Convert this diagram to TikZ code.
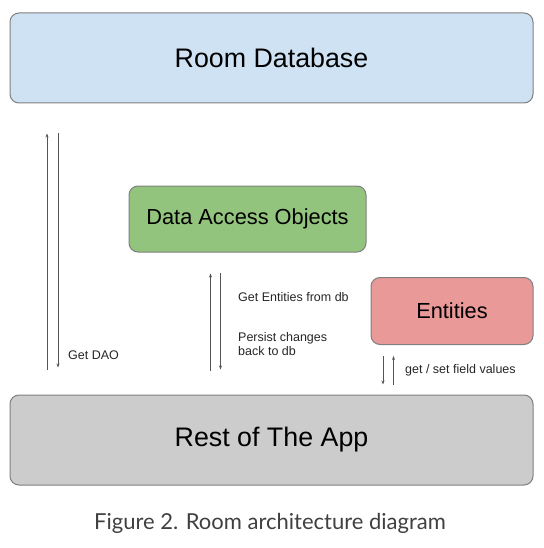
\documentclass[tikz,border=0pt]{standalone}
\usepackage{fontspec}
\setmainfont{Liberation Sans}
\newfontfamily\capfont{Lato}
\usetikzlibrary{arrows.meta,positioning}
\definecolor{dbblue}{HTML}{CFE2F3}
\definecolor{daogreen}{HTML}{93C47D}
\definecolor{entred}{HTML}{EA9999}
\definecolor{appgray}{HTML}{CCCCCC}
\definecolor{boxline}{HTML}{7F7F7F}
\definecolor{linkgray}{HTML}{555555}
\tikzset{
  box/.style={draw=boxline, line width=1pt, rounded corners=9pt, inner sep=0pt},
  link/.style={draw=linkgray, line width=0.8pt, -{Stealth[length=4pt,width=3pt]}},
  note/.style={font=\fontsize{12.5}{14}\selectfont, align=left, inner sep=0pt, anchor=west, text=black!85}
}
\begin{document}
\begin{tikzpicture}[x=1pt,y=-1pt]
		\useasboundingbox (0,0) rectangle (543,548);
		% % Boxes
		 	\node[box, fill=dbblue, minimum width=523pt, minimum height=90pt, font=\fontsize{26.8}{30}\selectfont] (db) at (271.5,58) {Room Database};
		 	\node[box, fill=daogreen, minimum width=237pt, minimum height=66pt, font=\fontsize{21.8}{26}\selectfont] (dao) at (247.5,219) {Data Access Objects};
		 	\node[box, fill=entred, minimum width=162pt, minimum height=67pt, font=\fontsize{21.8}{26}\selectfont] (ent) at (452,311) {Entities};
		 	\node[box, fill=appgray, minimum width=523pt, minimum height=90pt, font=\fontsize{26.8}{30}\selectfont] (app) at (271.5,440) {Rest of The App};
		% % Arrow pairs (start / end / gap at start / gap at end)
		 	\foreach \x/\a/\b/\s/\e in {
  		 		47/app.north/db.south/25/30,
  		 		58/db.south/app.north/30/27,
  		 		210.5/app.north/dao.south/24/21,
  		 		220.5/dao.south/app.north/20/25,
  		 		383/ent.south/app.north/11/10,
  		 		393.5/app.north/ent.south/10/11
		 	}{
  		 		\draw[link, shorten <=\s pt, shorten >=\e pt] (\a -| \x,0) -- (\b -| \x,0);
		 	}
		% % Labels
		 	\node[note] (getdao) at (68,355) {Get DAO};
		 	\node[note] (getent) at (238,297) {Get Entities from db};
		 	\node[note] (persist) at (238,344) {Persist changes\\back to db};
		 	\node[note] (field) at (405,370) {get / set field values};
		% % Caption
		 	\node[font=\capfont\fontsize{22}{26}\selectfont, text=black!75] (cap) at (270,523) {Figure 2. Room architecture diagram};
\end{tikzpicture}
\end{document}
